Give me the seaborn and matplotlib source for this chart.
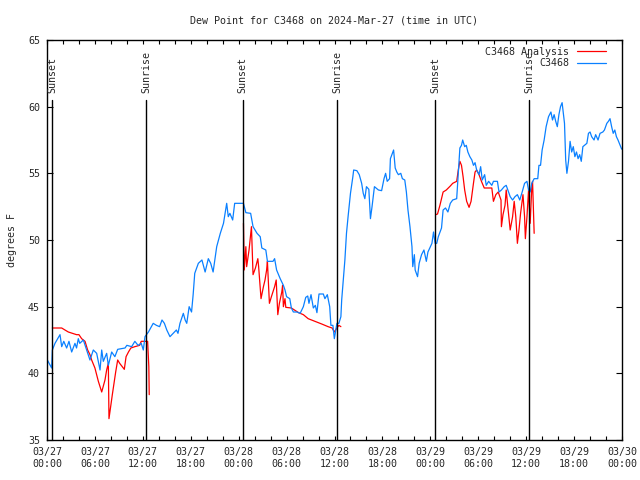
import matplotlib
matplotlib.use("Agg")
import matplotlib.pyplot as plt
import matplotlib.dates as mdates
import matplotlib.transforms as mtransforms
import numpy as np
import pandas as pd
import seaborn as sns

# time in hours after 2024-03-27 00:00 UTC
start = pd.Timestamp("2024-03-27 00:00")

obs_hours = [0.0, 0.58, 0.67, 1.0, 1.63, 1.84, 2.1, 2.46, 2.75, 3.09, 3.5, 3.7, 3.92, 4.1, 4.55,
             4.97, 5.38, 5.8, 6.22, 6.64, 6.85, 7.05, 7.47, 7.68, 8.1, 8.5, 8.85, 9.77, 10.0, 10.6,
             11.0, 11.4, 11.8, 12.06, 12.27, 12.7, 13.3, 13.7, 14.1, 14.4, 14.7, 15.0, 15.4, 15.8,
             16.2, 16.4, 16.65, 17.07, 17.3, 17.5, 17.8, 18.1, 18.3, 18.5, 18.95, 19.4, 19.8, 20.2,
             20.5, 20.8, 21.25, 21.7, 22.1, 22.5, 22.7, 22.9, 23.25, 23.5, 24.6, 24.9, 25.5, 25.8,
             26.3, 26.7, 26.9, 27.4, 27.6, 28.3, 28.5, 28.75, 29.2, 29.6, 29.8, 30.0, 30.4, 30.6,
             30.85, 31.3, 31.7, 31.9, 32.1, 32.4, 32.65, 32.8, 33.06, 33.35, 33.6, 33.8, 34.06,
             34.6, 34.8, 35.1, 35.4, 35.55, 35.8, 35.98, 36.3, 36.55, 36.8, 36.9, 37.1, 37.3, 37.5,
             37.7, 38.0, 38.3, 38.4, 38.8, 39.1, 39.4, 39.6, 39.8, 40.0, 40.3, 40.5, 40.7, 41.0,
             41.5, 41.9, 42.2, 42.4, 42.6, 42.9, 43.0, 43.4, 43.6, 43.8, 44.0, 44.3, 44.5, 44.8,
             45.0, 45.2, 45.45, 45.7, 45.8, 46.0, 46.1, 46.4, 46.6, 46.9, 47.2, 47.5, 47.7, 48.2,
             48.4, 48.6, 48.8, 49.0, 49.4, 49.6, 49.9, 50.2, 50.5, 50.8, 51.3, 51.5, 51.7, 51.9,
             52.05, 52.3, 52.5, 52.7, 52.95, 53.2, 53.4, 53.6, 53.8, 54.1, 54.3, 54.5, 54.8, 55.0,
             55.3, 55.7, 55.9, 56.4, 56.6, 56.9, 57.25, 57.5, 58.0, 58.3, 58.6, 58.9, 59.2, 59.5,
             59.8, 60.1, 60.3, 60.5, 60.7, 61.0, 61.45, 61.6, 61.8, 62.0, 62.25, 62.5, 62.8, 63.1,
             63.3, 63.5, 63.7, 63.9, 64.1, 64.3, 64.5, 64.8, 64.95, 65.1, 65.3, 65.5, 65.7, 65.9,
             66.1, 66.3, 66.5, 66.7, 66.9, 67.1, 67.6, 67.8, 68.0, 68.2, 68.5, 68.7, 69.0, 69.25,
             69.6, 69.8, 70.1, 70.3, 70.5, 70.7, 70.9, 71.1, 71.3, 71.5, 71.9, 72.0]
obs_dew = [41.05, 40.4, 41.75, 42.25, 42.9, 42.0, 42.4, 41.9, 42.4, 41.6, 42.25, 41.9, 42.6, 42.25, 42.5,
           41.75, 41.0, 41.75, 41.5, 40.25, 41.75, 40.9, 41.5, 40.6, 41.6, 41.25, 41.8, 41.9, 42.1, 42.0,
           42.4, 42.1, 42.25, 41.75, 42.75, 43.1, 43.75, 43.6, 43.5, 44.0, 43.75, 43.25, 42.75, 43.0,
           43.25, 43.0, 43.75, 44.5, 44.0, 43.75, 45.0, 44.6, 45.9, 47.5, 48.25, 48.5, 47.6, 48.6,
           48.25, 47.6, 49.5, 50.5, 51.25, 52.75, 51.75, 52.0, 51.5, 52.75, 52.75, 52.05, 52.0, 51.0,
           50.5, 50.25, 49.4, 49.25, 48.4, 48.4, 48.6, 47.75, 47.1, 46.6, 46.25, 45.75, 45.6, 44.9,
           44.6, 44.6, 44.5, 44.75, 45.0, 45.7, 45.8, 45.25, 45.9, 44.9, 45.1, 44.55, 45.95,
           45.95, 45.6, 45.9, 45.0, 43.6, 43.6, 42.6, 43.75, 43.75, 44.25, 45.5, 47.0, 48.5, 50.5,
           51.75, 53.5, 54.75, 55.25, 55.2, 54.9, 54.25, 53.5, 53.1, 54.0, 53.8, 51.6, 52.5, 54.0,
           53.75, 53.7, 54.6, 55.0, 54.4, 54.6, 56.1, 56.75, 55.4, 55.1, 54.9, 55.0, 54.6, 54.5,
           53.6, 52.25, 51.0, 49.5, 48.0, 48.9, 47.75, 47.25, 48.25, 48.9, 49.25, 48.4, 49.1, 49.75,
           50.6, 49.75, 49.75, 50.25, 50.9, 52.25, 52.4, 52.1, 52.75, 53.0, 53.1, 55.0, 56.9, 57.1,
           57.5, 57.0, 57.1, 56.6, 56.25, 56.0, 55.6, 55.8, 55.25, 54.9, 55.5, 54.5, 54.9, 54.1,
           54.4, 54.1, 54.4, 54.4, 53.6, 53.75, 54.0, 54.1, 53.25, 53.0, 53.25, 53.4, 53.0, 53.6,
           54.25, 54.4, 53.75, 53.6, 54.25, 54.6, 54.6, 55.6, 55.6, 56.75, 57.5, 58.5, 59.25, 59.6,
           59.0, 59.4, 58.9, 58.5, 59.4, 60.0, 60.3, 58.75, 56.0, 55.0, 55.9, 57.4, 56.6, 57.0,
           56.25, 56.6, 56.1, 56.4, 55.9, 57.0, 57.25, 58.0, 58.1, 57.75, 57.5, 57.9, 57.5, 58.0,
           58.1, 58.25, 58.75, 58.9, 59.1, 58.5, 58.0, 58.25, 57.75, 57.5, 56.9, 56.8]

# analysis, three nightly runs
ana_hours = [
    [0.67, 1.84, 2.25, 2.67, 3.7, 4.0, 4.34, 4.76, 5.09, 5.38, 5.59, 6.0, 6.43, 6.85, 7.26, 7.47,
     7.68, 7.76, 7.97, 8.18, 8.39, 8.6, 8.85, 9.1, 9.68, 9.9, 10.2, 10.5, 11.0, 11.6, 11.8, 12.27,
     12.6, 12.75, 12.8],
    [24.6, 24.7, 24.9, 25.0, 25.3, 25.6, 25.8, 26.1, 26.4, 26.5, 26.8, 27.1, 27.3, 27.5, 27.6, 27.7,
     27.85, 28.1, 28.5, 28.7, 28.9, 29.1, 29.4, 29.5, 29.6, 29.8, 29.9, 30.6, 31.5, 32.1, 32.7,
     33.55, 34.4, 35.2, 35.7, 35.98, 36.3, 36.55, 36.8],
    [48.67, 48.9, 49.2, 49.6, 50.0, 50.5, 50.8, 51.3, 51.5, 51.7, 51.9, 52.1, 52.3, 52.55, 52.85,
     53.1, 53.4, 53.6, 53.8, 54.1, 54.4, 54.75, 55.7, 55.9, 56.2, 56.5, 56.85, 56.9, 57.1, 57.35,
     57.5, 57.7, 58.0, 58.3, 58.5, 58.7, 58.9, 59.1, 59.3, 59.6, 59.8, 59.9, 60.1, 60.3, 60.5,
     60.7, 60.8, 61.0],
]
ana_dew = [
    [43.4, 43.4, 43.25, 43.1, 42.9, 42.9, 42.6, 42.4, 41.75, 41.4, 41.0, 40.4, 39.4, 38.6, 39.5, 40.25,
     40.75, 36.6, 37.5, 38.4, 39.25, 40.1, 41.0, 40.75, 40.3, 41.25, 41.6, 41.9, 42.0, 42.1, 42.4, 42.4,
     42.4, 40.5, 38.4],
    [51.25, 47.75, 49.5, 48.0, 49.25, 51.0, 47.4, 47.9, 48.6, 48.0, 45.6, 46.5, 47.0, 47.75, 48.4, 47.1,
     45.25, 45.75, 46.5, 47.0, 44.4, 45.25, 46.1, 46.6, 45.0, 45.6, 44.95, 44.9, 44.55, 44.4, 44.1,
     43.9, 43.7, 43.5, 43.4, 43.1, 43.4, 43.6, 43.5],
    [51.9, 51.95, 52.6, 53.6, 53.75, 54.05, 54.25, 54.4, 55.25, 55.9, 55.6, 54.75, 53.75, 52.9, 52.45,
     52.9, 54.25, 55.1, 55.25, 54.9, 54.4, 53.9, 53.9, 52.9, 53.4, 53.6, 53.0, 51.0, 51.9, 52.6,
     53.75, 52.5, 50.75, 51.75, 52.9, 51.75, 49.75, 50.75, 52.0, 53.4, 51.75, 50.1, 51.75, 53.75, 51.25,
     53.9, 54.4, 50.5],
]

sun_names = ["Sunset", "Sunrise", "Sunset", "Sunrise", "Sunset", "Sunrise"]
sun_hours = [0.63, 12.4, 24.5, 36.3, 48.6, 60.4]

def to_time(h):
    return start + pd.to_timedelta(np.array(h), unit="h")

sns.set_style("white")
plt.rcParams["font.family"] = ["DejaVu Sans Mono"]
plt.rcParams["font.size"] = 7.2

fig = plt.figure(figsize=(6.4, 4.8), dpi=100)
ax = fig.add_axes([47 / 640, 40 / 480, 575 / 640, 400 / 480])

red = "#ff0000"
blue = "#0a80ff"

for i in range(len(ana_hours)):
    seg = pd.DataFrame({"time": to_time(ana_hours[i]), "dew": ana_dew[i]})
    sns.lineplot(data=seg, x="time", y="dew", ax=ax, color=red, lw=0.9, sort=False,
                 estimator=None, label="C3468 Analysis" if i == 0 else None)

obs = pd.DataFrame({"time": to_time(obs_hours), "dew": obs_dew})
sns.lineplot(data=obs, x="time", y="dew", ax=ax, color=blue, lw=0.9, sort=False,
             estimator=None, label="C3468")

# sun lines stop below the labels; labels sit just above the line tops
trans = mtransforms.blended_transform_factory(ax.transData, ax.transAxes)
for name, h in zip(sun_names, sun_hours):
    t = mdates.date2num(start + pd.Timedelta(hours=h))
    ax.axvline(t, ymin=0, ymax=0.85, color="black", lw=1)
    ax.text(t, 0.867, name, transform=trans, rotation=90, ha="center", va="bottom", fontsize=7.2)

ax.set_xlim(start, start + pd.Timedelta(hours=72))
ax.set_ylim(35, 65)
ax.set_yticks(range(35, 66, 5))
ax.xaxis.set_major_locator(mdates.HourLocator(byhour=range(0, 24, 6)))
ax.xaxis.set_minor_locator(mdates.HourLocator(byhour=range(0, 24, 2)))
ax.xaxis.set_major_formatter(mdates.DateFormatter("%m/%d\n%H:%M"))
ax.tick_params(axis="x", which="both", direction="in", top=True, bottom=True, length=3,
               width=0.8, pad=5, labelsize=7.2, color="black")
ax.tick_params(axis="y", which="major", direction="in", left=True, right=True, length=4,
               width=0.8, pad=5, labelsize=7.2, color="black")
for sp in ax.spines.values():
    sp.set_color("black")
    sp.set_linewidth(1)

ax.set_xlabel("")
ax.set_ylabel("degrees F", fontsize=7.2, labelpad=8)
ax.set_title("Dew Point for C3468 on 2024-Mar-27 (time in UTC)", fontsize=7.2, pad=12)

ax.legend(loc="upper right", bbox_to_anchor=(1 - 12 / 575, 1 - 3 / 400), frameon=False,
          markerfirst=False, handlelength=2.9, handletextpad=0.8, labelspacing=0.15,
          borderaxespad=0, fontsize=7.2)

fig.savefig("out.png", dpi=100)
